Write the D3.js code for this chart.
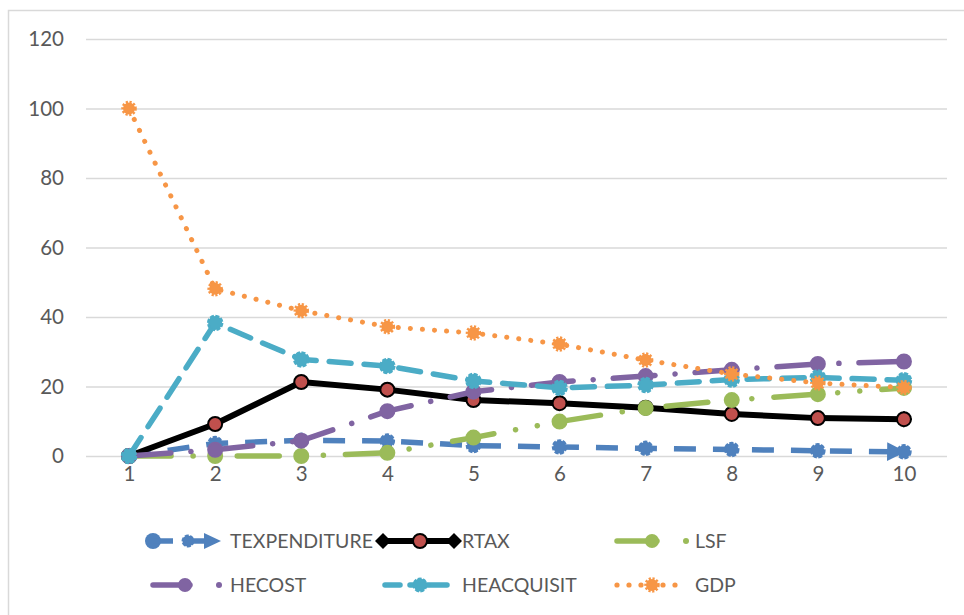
<!DOCTYPE html>
<html>
<head>
<meta charset="utf-8">
<script src="https://cdn.jsdelivr.net/npm/d3@7"></script>
<style>
  html, body { margin: 0; padding: 0; background: #fff; }
  svg { display: block; }
  text { font-family: Lato, "Open Sans", sans-serif; fill: #595959; }
</style>
</head>
<body>
<svg id="chart" width="964" height="615"></svg>
<script>
// ---------- data ----------
const categories = ["1","2","3","4","5","6","7","8","9","10"];
const yTicks = [0, 20, 40, 60, 80, 100, 120];
const texpenditure = [0, 3.6, 4.5, 4.3, 3.0, 2.6, 2.2, 1.9, 1.5, 1.2];
const rtax         = [0, 9.2, 21.3, 19.1, 16.1, 15.2, 13.9, 12.1, 10.9, 10.6];
const lsf          = [0, 0, 0, 0.9, 5.3, 9.9, 13.8, 16.1, 17.8, 19.6];
const hecost       = [0, 1.8, 4.4, 12.9, 18.5, 21.3, 23.0, 24.8, 26.5, 27.2];
const heacquisit   = [0, 38.3, 27.8, 25.9, 21.6, 19.6, 20.4, 22.0, 22.6, 21.8];
const gdp          = [100, 48.1, 41.8, 37.2, 35.4, 32.2, 27.6, 23.6, 21.0, 19.7];
const seriesNames  = ["TEXPENDITURE", "RTAX", "LSF", "HECOST", "HEACQUISIT", "GDP"];

// ---------- styles ----------
const styles = {
  TEXPENDITURE: { color: "#4F81BD", width: 5.5, dash: "22 17", cap: "butt", r: 6.5, mfill: "#4F81BD", mstroke: "#4F81BD", mdash: "4 1.5", msw: 2.5, start: "mRound", end: "mArrow" },
  RTAX:         { color: "#000000", width: 6, dash: null, cap: "butt", r: 7, mfill: "#C0504D", mstroke: "#000000", mdash: null, msw: 2, start: "mDiamond", end: "mDiamond" },
  LSF:          { color: "#9BBB59", width: 5.5, dash: "42 22 0.1 22 0.1 22", cap: "round", r: 7, mfill: "#9BBB59", mstroke: "#9BBB59", mdash: null, msw: 2 },
  HECOST:       { color: "#8064A2", width: 5.5, dash: "42 20 0.1 20", cap: "round", r: 7, mfill: "#8064A2", mstroke: "#8064A2", mdash: null, msw: 2 },
  HEACQUISIT:   { color: "#4BACC6", width: 5.5, dash: "22 13", cap: "round", r: 7, mfill: "#4BACC6", mstroke: "#4BACC6", mdash: "4 1.5", msw: 2.5 },
  GDP:          { color: "#F79646", width: 5, dash: "0.1 12", cap: "round", r: 6, mfill: "#F79646", mstroke: "#F79646", mdash: "2 1.5", msw: 3.5 }
};
const dataBy = { TEXPENDITURE: texpenditure, RTAX: rtax, LSF: lsf, HECOST: hecost, HEACQUISIT: heacquisit, GDP: gdp };

// ---------- layout ----------
const svg = d3.select("#chart");
const plot = { left: 86, right: 947, top: 39, bottom: 456 };

// chart border (extends past image edge)
svg.append("rect").attr("x", 8.5).attr("y", 10.5).attr("width", 990).attr("height", 640)
  .attr("fill", "none").attr("stroke", "#d9d9d9").attr("stroke-width", 1.5);

const x = d3.scalePoint().domain(categories).range([plot.left, plot.right]).padding(0.5);
const y = d3.scaleLinear().domain([0, 120]).range([plot.bottom, plot.top]);

// defs for line end markers
const defs = svg.append("defs");
defs.append("marker").attr("id", "mArrow").attr("viewBox", "0 0 10 10").attr("refX", 9).attr("refY", 5)
  .attr("markerWidth", 3.4).attr("markerHeight", 3.4).attr("orient", "auto").attr("markerUnits", "strokeWidth")
  .append("path").attr("d", "M0,0 L10,5 L0,10 Z").attr("fill", styles.TEXPENDITURE.color);
defs.append("marker").attr("id", "mRound").attr("viewBox", "0 0 10 10").attr("refX", 5).attr("refY", 5)
  .attr("markerWidth", 3).attr("markerHeight", 3).attr("orient", "auto").attr("markerUnits", "strokeWidth")
  .append("circle").attr("cx", 5).attr("cy", 5).attr("r", 5).attr("fill", styles.TEXPENDITURE.color);
defs.append("marker").attr("id", "mDiamond").attr("viewBox", "0 0 10 10").attr("refX", 5).attr("refY", 5)
  .attr("markerWidth", 2.8).attr("markerHeight", 2.8).attr("orient", "auto").attr("markerUnits", "strokeWidth")
  .append("path").attr("d", "M0,5 L5,0 L10,5 L5,10 Z").attr("fill", "#000");

// gridlines + y axis
const yAxis = d3.axisLeft(y).tickValues(yTicks).tickSize(-(plot.right - plot.left)).tickPadding(22);
const gy = svg.append("g").attr("transform", `translate(${plot.left},0)`).call(yAxis);
gy.select(".domain").remove();
gy.selectAll(".tick line").attr("stroke", "#d9d9d9").attr("stroke-width", 1.5);
gy.selectAll(".tick text").attr("font-size", 20.5).attr("fill", "#595959")
  .attr("font-family", "Lato, 'Open Sans', sans-serif");

// x axis labels
const xAxis = d3.axisBottom(x).tickSize(0).tickPadding(10);
const gx = svg.append("g").attr("transform", `translate(0,${plot.bottom})`).call(xAxis);
gx.select(".domain").remove();
gx.selectAll(".tick text").attr("font-size", 20.5).attr("fill", "#595959")
  .attr("font-family", "Lato, 'Open Sans', sans-serif");

// series
const line = d3.line().x((d, i) => x(categories[i])).y(d => y(d));
seriesNames.forEach(name => {
  const s = styles[name];
  const vals = dataBy[name];
  const g = svg.append("g");
  const p = g.append("path").datum(vals).attr("d", line)
    .attr("fill", "none").attr("stroke", s.color).attr("stroke-width", s.width)
    .attr("stroke-linecap", s.cap).attr("stroke-linejoin", "round");
  if (s.dash) p.attr("stroke-dasharray", s.dash);
  if (s.start) p.attr("marker-start", `url(#${s.start})`);
  if (s.end) p.attr("marker-end", `url(#${s.end})`);
  const c = g.selectAll("circle").data(vals).join("circle")
    .attr("cx", (d, i) => x(categories[i])).attr("cy", d => y(d)).attr("r", s.r)
    .attr("fill", s.mfill).attr("stroke", s.mstroke).attr("stroke-width", s.msw);
  if (s.mdash) c.attr("stroke-dasharray", s.mdash);
});

// ---------- legend ----------
const legend = svg.append("g");
const rowsY = [541, 585];
const cols = [{ sx: 150, tx: 230 }, { sx: 383, tx: 462 }, { sx: 617, tx: 695 }];
const legendOrder = [["TEXPENDITURE", 0, 0], ["RTAX", 0, 1], ["LSF", 0, 2], ["HECOST", 1, 0], ["HEACQUISIT", 1, 1], ["GDP", 1, 2]];

function circ(g, cx, cy, r, fill, stroke, sw, dash) {
  const c = g.append("circle").attr("cx", cx).attr("cy", cy).attr("r", r).attr("fill", fill);
  if (stroke) c.attr("stroke", stroke).attr("stroke-width", sw);
  if (dash) c.attr("stroke-dasharray", dash);
}
function seg(g, x1, x2, yy, s, dash, cap) {
  const l = g.append("line").attr("x1", x1).attr("x2", x2).attr("y1", yy).attr("y2", yy)
    .attr("stroke", s.color).attr("stroke-width", s.width).attr("stroke-linecap", cap || "butt");
  if (dash) l.attr("stroke-dasharray", dash);
}

legendOrder.forEach(([name, row, col]) => {
  const s = styles[name];
  const yy = rowsY[row];
  const sx = cols[col].sx;
  const g = legend.append("g");
  if (name === "TEXPENDITURE") {
    circ(g, sx + 3, yy, 8, s.color);
    seg(g, sx + 3, sx + 23, yy, s);
    seg(g, sx + 33, sx + 57, yy, s);
    circ(g, sx + 38, yy, 5.5, s.color, s.color, 2, "4 1.5");
    g.append("path").attr("d", `M${sx + 54},${yy - 8} L${sx + 71},${yy} L${sx + 54},${yy + 8} Z`).attr("fill", s.color);
  } else if (name === "RTAX") {
    seg(g, sx, sx + 71, yy, s);
    g.append("path").attr("d", `M${sx - 8},${yy} L${sx},${yy - 8} L${sx + 8},${yy} L${sx},${yy + 8} Z`).attr("fill", "#000");
    g.append("path").attr("d", `M${sx + 63},${yy} L${sx + 71},${yy - 8} L${sx + 79},${yy} L${sx + 71},${yy + 8} Z`).attr("fill", "#000");
    circ(g, sx + 37, yy, 7, s.mfill, "#000", 2);
  } else if (name === "LSF" || name === "HECOST") {
    const off = name === "HECOST" ? 3 : 0;
    seg(g, sx + off, sx + 40, yy, s, null, "round");
    circ(g, sx + 35, yy, 7, s.color);
    circ(g, sx + 69, yy, 3, s.color);
  } else if (name === "HEACQUISIT") {
    seg(g, sx + 2, sx + 17, yy, s, null, "round");
    seg(g, sx + 47, sx + 64, yy, s, null, "round");
    seg(g, sx + 27, sx + 45, yy, s, null, "round");
    circ(g, sx + 37, yy, 6.5, s.color, s.color, 2, "4 1.5");
  } else if (name === "GDP") {
    [0, 12, 24, 46, 58].forEach(dx => circ(g, sx + dx, yy, 2.6, s.color));
    circ(g, sx + 35, yy, 6, s.color, s.color, 3.5, "2 1.5");
  }
  g.append("text").attr("x", cols[col].tx).attr("y", yy).attr("dy", "0.36em")
    .attr("font-size", 19.5).attr("fill", "#595959").text(name);
});
</script>
</body>
</html>
